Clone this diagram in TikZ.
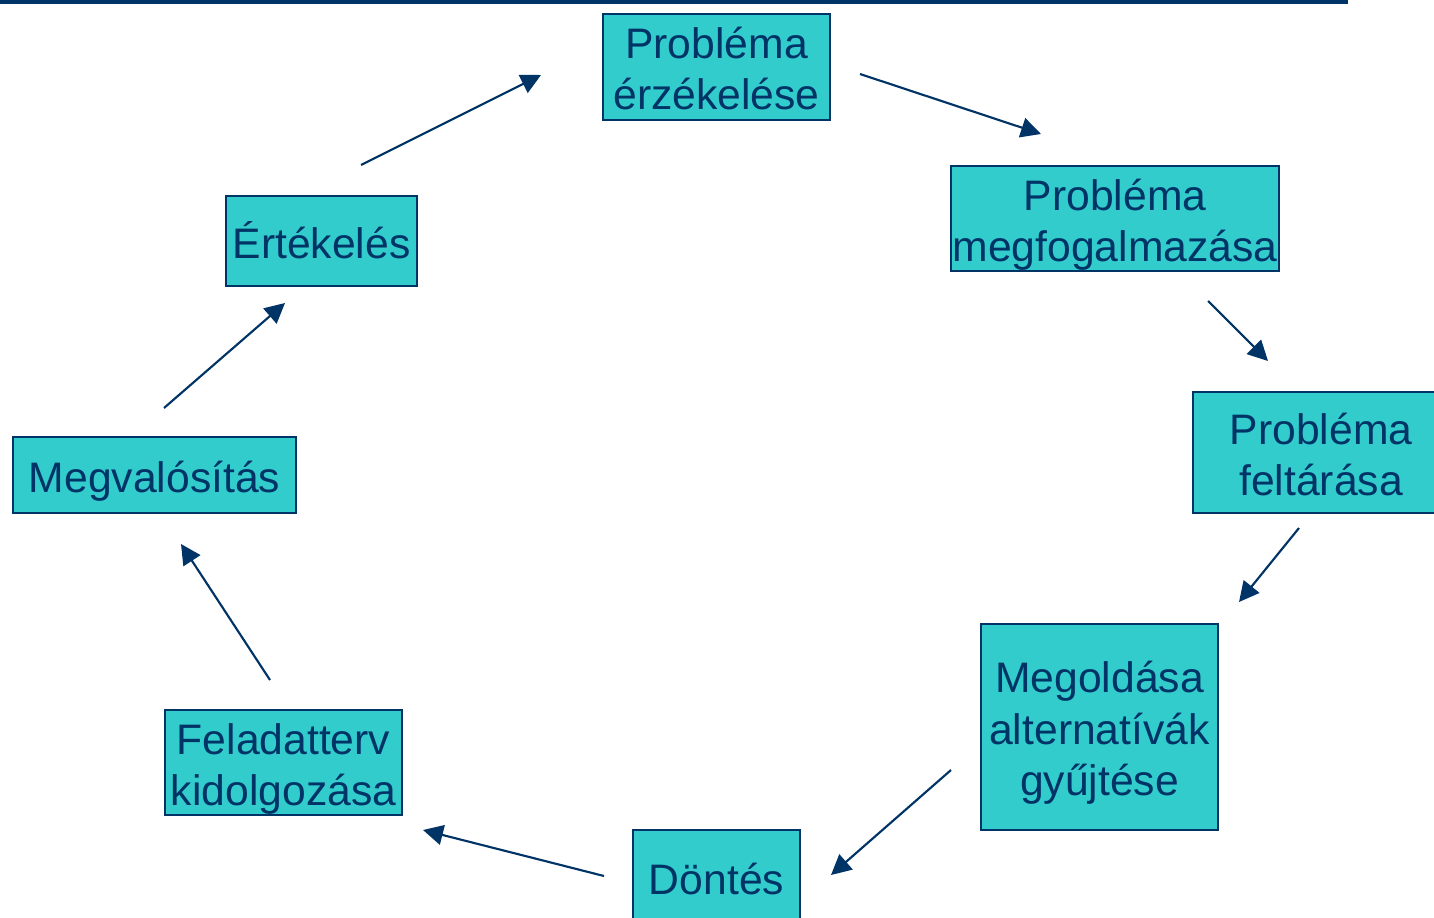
\documentclass[tikz,border=0pt]{standalone}
\usepackage{fontspec}
\setmainfont{Liberation Sans}
\usetikzlibrary{arrows.meta}
\definecolor{navy}{HTML}{003366}
\definecolor{turq}{HTML}{33CCCC}
\newcommand{\boxtxt}[1]{\raisebox{0pt}[\dimexpr\height+4.5pt\relax][\dimexpr\depth-6pt\relax]{\begin{tabular}{@{}c@{}}#1\end{tabular}}}
\begin{document}
\begin{tikzpicture}[x=0.75pt,y=-0.75pt,
  box/.style={draw=navy,fill=turq,line width=1.5pt,inner sep=0pt,outer sep=0pt,
    text=navy,font=\fontsize{32}{38.5}\selectfont},
  conn/.style={draw=navy,line width=1.6pt,-{Triangle[length=15pt,width=15pt]}}]
\useasboundingbox (0,0) rectangle (1434,917);
\clip (0,0) rectangle (1434,917);
\fill[navy] (0,0) rectangle (1348,4);
\node[box,minimum width=170.25pt,minimum height=79.5pt] (b1) at (716.5,67) {\boxtxt{Probléma\\érzékelése}};
\node[box,minimum width=246pt,minimum height=78.75pt] (b2) at (1115,218.5) {\boxtxt{Probléma\\megfogalmazása}};
\node[box,minimum width=192pt,minimum height=90.75pt] (b3) at (1321,452.5) {\boxtxt{Probléma\\feltárása}};
\node[box,minimum width=177.75pt,minimum height=154.5pt] (b4) at (1099.5,727) {\boxtxt{Megoldása\\alternatívák\\gyűjtése}};
\node[box,minimum width=125.25pt,minimum height=70.5pt] (b5) at (716.5,877) {\boxtxt{Döntés}};
\node[box,minimum width=177.75pt,minimum height=78.75pt] (b6) at (283.5,762.5) {\boxtxt{Feladatterv\\kidolgozása}};
\node[box,minimum width=212.25pt,minimum height=57pt] (b7) at (154.5,475) {\boxtxt{Megvalósítás}};
\node[box,minimum width=143.25pt,minimum height=67.5pt] (b8) at (321.5,241) {\boxtxt{Értékelés}};
\coordinate (a1s) at (361,165); \coordinate (a1e) at (541,75);
\coordinate (a2s) at (860,74); \coordinate (a2e) at (1041,134);
\coordinate (a3s) at (1208,301); \coordinate (a3e) at (1268,361);
\coordinate (a4s) at (1299,528); \coordinate (a4e) at (1239,602);
\coordinate (a5s) at (951,770); \coordinate (a5e) at (831,875);
\coordinate (a6s) at (604,876); \coordinate (a6e) at (423,830);
\coordinate (a7s) at (270,680); \coordinate (a7e) at (181,544);
\coordinate (a8s) at (164,408); \coordinate (a8e) at (285,303);
\foreach \i in {1,...,8} {\draw[conn] (a\i s) -- (a\i e);}
\end{tikzpicture}
\end{document}
